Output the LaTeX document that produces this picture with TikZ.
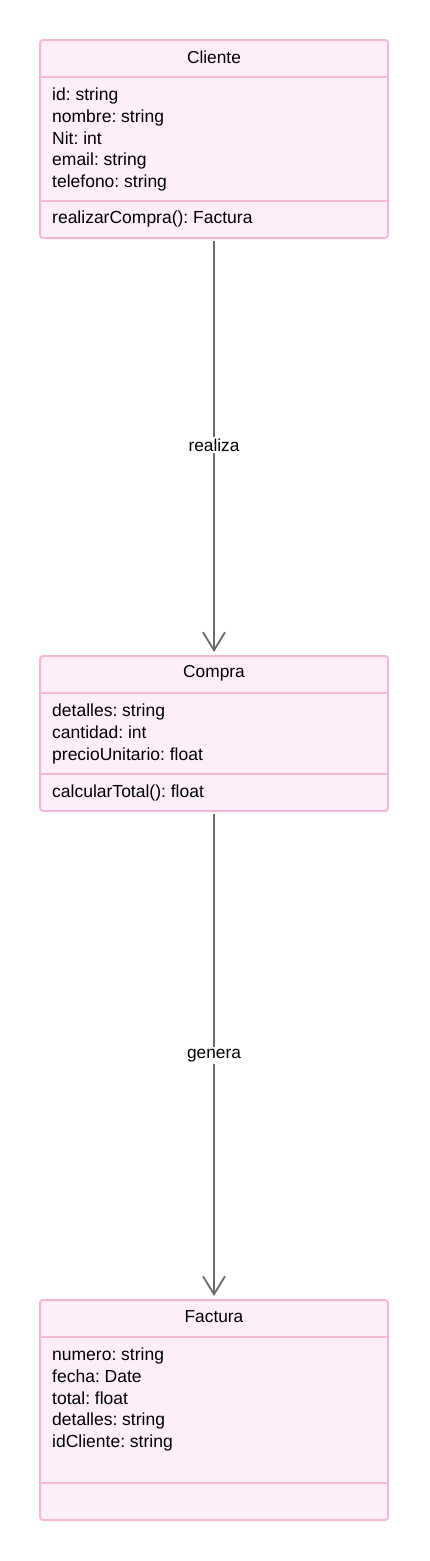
\documentclass[tikz,border=0pt]{standalone}
\usepackage{fontspec}
\setmainfont{Liberation Sans}
\usetikzlibrary{arrows.meta}
\frenchspacing

\definecolor{boxfill}{HTML}{FDEEF8}
\definecolor{boxline}{HTML}{F2B8D4}
\definecolor{linkgray}{HTML}{6A6A6A}

\tikzset{
  umlbox/.style={draw=boxline, fill=boxfill, line width=2pt, rounded corners=3pt,
    minimum width=348pt, inner sep=0pt},
  sepline/.style={draw=boxline, line width=1.6pt},
  classname/.style={inner sep=0pt, font=\fontsize{17.3}{21.5}\selectfont},
  members/.style={inner sep=0pt, anchor=north west, align=left,
    font=\fontsize{17.5}{21.6}\selectfont},
  assoc/.style={draw=linkgray, line width=2.6pt,
    -{Straight Barb[length=18pt, width=22pt, line width=1.8pt]}},
  assoclabel/.style={fill=white, inner sep=2pt, font=\fontsize{17.3}{21}\selectfont}
}

\begin{document}
\begin{tikzpicture}[x=1pt, y=-1pt]
			
			\useasboundingbox (0,0) rectangle (429,1561);
			
			% Cliente
			\node[umlbox, minimum height=198pt] (cliente) at (214,139) {};
			\draw[sepline] (41,77) -- (387,77);
			\draw[sepline] (41,201) -- (387,201);
			\node[classname] (clienteName) at (214,57) {Cliente};
			\node[members] (clienteAttr) at (52,88) {id: string\\nombre: string\\Nit: int\\email: string\\telefono: string};
			\node[members] (clienteOps) at (52,211) {realizarCompra(): Factura};
			
			% Compra
			\node[umlbox, minimum height=155pt] (compra) at (214,733.5) {};
			\draw[sepline] (41,693) -- (387,693);
			\draw[sepline] (41,774) -- (387,774);
			\node[classname] (compraName) at (214,673) {Compra};
			\node[members] (compraAttr) at (52,704) {detalles: string\\cantidad: int\\precioUnitario: float};
			\node[members] (compraOps) at (52,785) {calcularTotal(): float};
			
			% Factura
			\node[umlbox, minimum height=220pt] (factura) at (214,1410) {};
			\draw[sepline] (41,1337) -- (387,1337);
			\draw[sepline] (41,1483) -- (387,1483);
			\node[classname] (facturaName) at (214,1317) {Factura};
			\node[members] (facturaAttr) at (52,1348) {numero: string\\fecha: Date\\total: float\\detalles: string\\idCliente: string};
			
			% relaciones
			\draw[assoc, shorten <=2pt, shorten >=3pt] (cliente.south) -- (compra.north)
			  node[assoclabel, midway, yshift=2pt] (realiza) {realiza};
			\draw[assoc, shorten <=2pt, shorten >=3pt] (compra.south) -- (factura.north)
			  node[assoclabel, midway] (genera) {genera};
			
		\end{tikzpicture}
\end{document}
